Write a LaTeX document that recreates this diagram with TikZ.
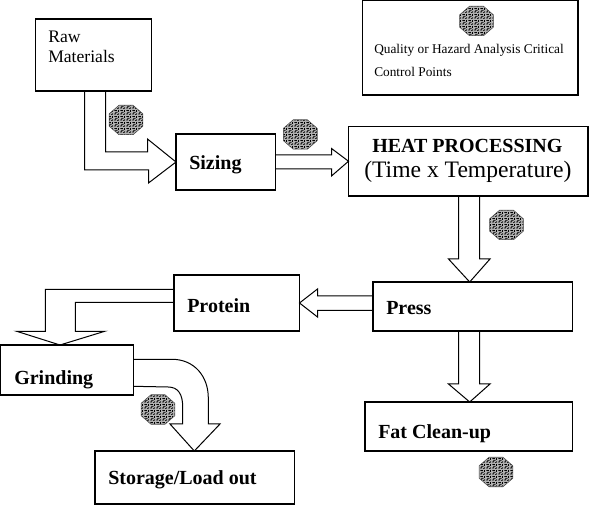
\documentclass[tikz,border=0pt]{standalone}
\usepackage{fontspec}
\setmainfont{Liberation Serif}
\usetikzlibrary{calc,fit,patterns,shapes.geometric}
\pgfdeclarepatternformonly{mottle}{\pgfpointorigin}{\pgfqpoint{4.5pt}{4.5pt}}{\pgfqpoint{4.5pt}{4.5pt}}{
  \pgfsetlinewidth{.7pt}
  \pgfpathmoveto{\pgfqpoint{0pt}{.8pt}}
  \pgfpathlineto{\pgfqpoint{1.5pt}{.8pt}}
  \pgfpathlineto{\pgfqpoint{1.5pt}{2.4pt}}
  \pgfpathlineto{\pgfqpoint{3pt}{2.4pt}}
  \pgfpathmoveto{\pgfqpoint{2.8pt}{0pt}}
  \pgfpathlineto{\pgfqpoint{4.2pt}{1.2pt}}
  \pgfpathmoveto{\pgfqpoint{.4pt}{3.8pt}}
  \pgfpathlineto{\pgfqpoint{2.4pt}{3.8pt}}
  \pgfpathmoveto{\pgfqpoint{3.8pt}{2.6pt}}
  \pgfpathlineto{\pgfqpoint{3.8pt}{4.2pt}}
  \pgfusepath{stroke}
}
\tikzset{
  box/.style={draw,rectangle,inner sep=0pt,outer sep=0pt,line width=.8pt},
  fatarrow/.style={draw,line width=.75pt},
  boldtxt/.style={anchor=base west,inner sep=0pt,font=\fontsize{15}{17}\selectfont\bfseries},
  plaintxt/.style={anchor=base west,inner sep=0pt,font=\fontsize{13.2}{15}\selectfont},
  bigtxt/.style={anchor=base west,inner sep=0pt,font=\fontsize{17.7}{20}\selectfont},
  notetxt/.style={anchor=base west,inner sep=0pt,font=\fontsize{10}{12}\selectfont},
  hazard/.style={draw=black!70,regular polygon,regular polygon sides=8,
    transform shape,yscale=.87,minimum size=27.5pt,inner sep=0pt,line width=.4pt,
    preaction={fill=black!30},pattern=mottle,pattern color=black}
}
\begin{document}
\begin{tikzpicture}[x=.75pt,y=-.75pt]
\useasboundingbox (0,0) rectangle (589,505);
% boxes
\node[box,fit={(35.5,19) (151.5,91)}] (raw) {};
\node[box,fit={(176,134) (275.5,190)}] (sizing) {};
\node[box,fit={(348.5,126.5) (588,196)}] (heat) {};
\node[box,fit={(362.5,.5) (578,95)}] (legend) {};
\node[box,fit={(373,282) (572.5,331)}] (press) {};
\node[box,fit={(174,275) (299.5,331)}] (protein) {};
\node[box,fit={(.5,345) (133.5,395)}] (grinding) {};
\node[box,fit={(95,451) (294.5,504)}] (storage) {};
\node[box,fit={(365,402) (572.5,451)}] (fat) {};
% texts
\node[plaintxt] (rawtxt) at (48,42.5) {Raw};
\node[plaintxt] (mattxt) at (48,62.5) {Materials};
\node[boldtxt] (sizingtxt) at (189,170) {Sizing};
\node[boldtxt] (heattxt) at (372,152.5) {HEAT PROCESSING};
\node[bigtxt] (timetxt) at (364,178) {(Time x Temperature)};
\node[notetxt] (note1) at (374,53.5) {Quality or Hazard Analysis Critical};
\node[notetxt] (note2) at (374,76.5) {Control Points};
\node[boldtxt] (presstxt) at (386,315) {Press};
\node[boldtxt] (proteintxt) at (187,313) {Protein};
\node[boldtxt] (grindingtxt) at (14,385) {Grinding};
\node[boldtxt] (storagetxt) at (108,484.5) {Storage/Load out};
\node[boldtxt] (fattxt) at (378,438.5) {Fat Clean-up};
% critical points
\foreach \n/\x/\y in {1/126/120,2/300.3/134.5,3/476.5/21,4/506.5/225,5/158/409.5,6/496/472}
  \node[hazard] (ccp\n) at (\x,\y) {};
% arrows
\draw[fatarrow] ($(raw.south west)+(49,0)$) |- (148.5,170) -- (148.5,183) -- (sizing.west)
  -- (147.5,139) -- (147.5,152) -| ($(raw.south west)+(70,0)$);
\draw[fatarrow] ($(sizing.east)+(0,-7)$) -- (331.5,155) -- (331.5,148.5) -- (heat.west)
  -- (331.5,176) -- (331.5,169) -- ($(sizing.east)+(0,7)$);
\draw[fatarrow] (458.5,196) -- (458.5,259) -- (448.5,259) -- ($(press.north west)+(96.7,0)$)
  -- (490,259) -- (479.5,259) -- (479.5,196);
\draw[fatarrow] (458.5,331) -- (458.5,384) -- (448.5,384) -- ($(fat.north west)+(104.7,0)$)
  -- (490,384) -- (479.5,384) -- (479.5,331);
\draw[fatarrow] (373,296) -- (317.5,296) -- (317.5,289) -- (protein.east)
  -- (317.5,317) -- (317.5,310.5) -- (373,310.5);
\draw[fatarrow] ($(protein.north west)+(0,14.3)$) -- (45.3,289.3) -- (45.3,331.3) -- (16.7,331.3)
  -- ($(grinding.north west)+(59.5,0)$) -- (104.7,331.3) -- (75.3,331.3) -- (75.3,302.3)
  -- ($(protein.north west)+(0,27.3)$);
\draw[fatarrow] ($(grinding.north east)+(0,14.3)$) -- (172,359.3)
  .. controls (194,359.3) and (208.3,376) .. (208.3,398) -- (208.3,424) -- (220,424)
  -- ($(storage.north west)+(99.3,0)$) -- (170,424) -- (182.7,424) -- (182.7,407)
  .. controls (182.7,394) and (178,387) .. (168,387) -- ($(grinding.north east)+(0,41.3)$);
\end{tikzpicture}
\end{document}
